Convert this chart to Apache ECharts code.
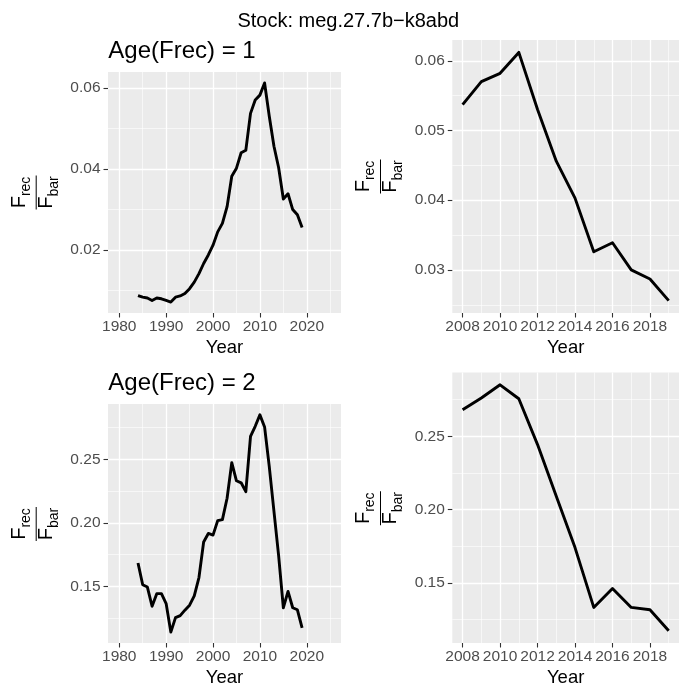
<!DOCTYPE html>
<html>
<head>
<meta charset="utf-8">
<script src="https://cdn.jsdelivr.net/npm/echarts@6/dist/echarts.min.js"></script>
<style>
html,body{margin:0;padding:0;background:#fff;}
#chart{width:679px;height:688px;}
</style>
</head>
<body>
<div id="chart"></div>
<script>
// ---- data ----
var years = [1984,1985,1986,1987,1988,1989,1990,1991,1992,1993,1994,1995,1996,1997,1998,1999,
  2000,2001,2002,2003,2004,2005,2006,2007,2008,2009,2010,2011,2012,2013,2014,2015,2016,2017,2018,2019];
var age1Values = [0.0088,0.0084,0.0082,0.0076,0.0082,0.0080,0.0076,0.0072,0.0084,0.0087,0.0093,0.0105,
  0.0121,0.0142,0.0167,0.0188,0.0212,0.0245,0.0266,0.0307,0.0382,0.0402,0.0440,0.0446,
  0.0537,0.0570,0.0582,0.0612,0.0530,0.0456,0.0403,0.0326,0.0339,0.0300,0.0287,0.0256];
var age2Values = [0.1684,0.1513,0.1495,0.1344,0.1443,0.1443,0.1365,0.1140,0.1254,0.1270,0.1313,0.1352,
  0.1425,0.1570,0.1850,0.1917,0.1904,0.2018,0.2026,0.2194,0.2474,0.2332,0.2316,0.2246,
  0.2681,0.2761,0.2851,0.2756,0.2443,0.2091,0.1740,0.1332,0.1461,0.1332,0.1316,0.1173];
var recentStart = 2008;
var fullYearTicks = [1980,1990,2000,2010,2020];
var recentYearTicks = [2008,2010,2012,2014,2016,2018];
var age1Ticks = [0.02,0.04,0.06];
var age1RecentTicks = [0.03,0.04,0.05,0.06];
var age2Ticks = [0.15,0.20,0.25];
var age2RecentTicks = [0.15,0.20,0.25];
var mainTitle = 'Stock: meg.27.7b\u2212k8abd';
var panelTitles = ['Age(Frec) = 1','Age(Frec) = 2'];
var xTitle = 'Year';

// ---- helpers ----
var FONT = '"Liberation Sans", Arial, Helvetica, sans-serif';
function pairs(ys, vs, from){
  var out = [];
  for (var i=0;i<ys.length;i++){ if (ys[i] >= from) out.push([ys[i], vs[i]]); }
  return out;
}
function expand(vals){
  var mn = Math.min.apply(null, vals), mx = Math.max.apply(null, vals);
  var d = (mx - mn) * 0.05;
  return [mn - d, mx + d];
}
function recentVals(vs){
  return vs.filter(function(v,i){ return years[i] >= recentStart; });
}

var grids = [
  {left:108,   top:72,    width:233, height:241},
  {left:452.3, top:40,    width:233, height:273},
  {left:108,   top:404,   width:233, height:240},
  {left:452.3, top:372.5, width:233, height:271.5}
];
grids.forEach(function(g){ g.show = true; g.backgroundColor = '#EBEBEB'; g.borderWidth = 0; g.containLabel = false; });

var TICK_FS = 15.5;
function xAxis(gi, min, max, ticks){
  return {
    type:'value', gridIndex:gi, min:min, max:max, splitNumber:5,
    axisLine:{show:false, onZero:false},
    axisTick:{show:true, length:4.5, customValues:ticks, lineStyle:{color:'#333333', width:1.1}},
    axisLabel:{customValues:ticks, color:'#4D4D4D', fontSize:TICK_FS, fontFamily:FONT, margin:6,
      formatter:function(v){ return String(Math.round(v)); }},
    splitLine:{show:true, lineStyle:{color:'#FFFFFF', width:1.3}},
    minorTick:{show:false, splitNumber:2},
    minorSplitLine:{show:true, lineStyle:{color:'#FFFFFF', width:0.6}},
    name:xTitle, nameLocation:'middle', nameGap:25,
    nameTextStyle:{color:'#000', fontSize:18.5, fontFamily:FONT}
  };
}
function yAxis(gi, ext, ticks, split){
  return {
    type:'value', gridIndex:gi, min:ext[0], max:ext[1], splitNumber:split,
    axisLine:{show:false, onZero:false},
    axisTick:{show:true, length:4.5, customValues:ticks, lineStyle:{color:'#333333', width:1.1}},
    axisLabel:{customValues:ticks, color:'#4D4D4D', fontSize:TICK_FS, fontFamily:FONT, margin:7.5,
      formatter:function(v){ return v.toFixed(2); }},
    splitLine:{show:true, lineStyle:{color:'#FFFFFF', width:1.3}},
    minorTick:{show:false, splitNumber:2},
    minorSplitLine:{show:true, lineStyle:{color:'#FFFFFF', width:0.6}}
  };
}

var recentExt = [recentStart - 0.55, 2019 + 0.55];
var xAxes = [
  xAxis(0, 1977.6, 2027.3, fullYearTicks),
  xAxis(1, recentExt[0], recentExt[1], recentYearTicks),
  xAxis(2, 1977.6, 2027.3, fullYearTicks),
  xAxis(3, recentExt[0], recentExt[1], recentYearTicks)
];
var yAxes = [
  yAxis(0, expand(age1Values), age1Ticks, 3),
  yAxis(1, expand(recentVals(age1Values)), age1RecentTicks, 4),
  yAxis(2, expand(age2Values), age2Ticks, 4),
  yAxis(3, expand(recentVals(age2Values)), age2RecentTicks, 4)
];

function lineSeries(i, data){
  return {type:'line', xAxisIndex:i, yAxisIndex:i, data:data, showSymbol:false, symbol:'none',
    lineStyle:{color:'#000', width:2.9, join:'round', cap:'butt'}, silent:true, animation:false, z:5};
}
var series = [
  lineSeries(0, pairs(years, age1Values, 0)),
  lineSeries(1, pairs(years, age1Values, recentStart)),
  lineSeries(2, pairs(years, age2Values, 0)),
  lineSeries(3, pairs(years, age2Values, recentStart))
];

// y-axis title: F_rec / F_bar, rotated
function fraction(cx, cy){
  var fF = 'normal 20px ' + FONT, fS = 'normal 14px ' + FONT;
  var numW = 12.2 + 19.4, denW = 12.2 + 20.2;
  return {
    type:'group', x:cx, y:cy, rotation:Math.PI/2, silent:true,
    children:[
      {type:'text', x:-numW/2, y:-17.1, style:{text:'F', font:fF, fill:'#000', align:'left', verticalAlign:'middle'}},
      {type:'text', x:-numW/2+12.2, y:-10.1, style:{text:'rec', font:fS, fill:'#000', align:'left', verticalAlign:'middle'}},
      {type:'line', shape:{x1:-17, y1:0, x2:17, y2:0}, style:{stroke:'#000', lineWidth:1}},
      {type:'text', x:-denW/2, y:10.4, style:{text:'F', font:fF, fill:'#000', align:'left', verticalAlign:'middle'}},
      {type:'text', x:-denW/2+12.2, y:17.9, style:{text:'bar', font:fS, fill:'#000', align:'left', verticalAlign:'middle'}}
    ]
  };
}

var graphics = [
  {type:'text', x:348.3, y:21.1, silent:true, style:{text:mainTitle, font:'normal 20px '+FONT, fill:'#000', align:'center', verticalAlign:'middle'}},
  {type:'text', x:108.3, y:51.5, silent:true, style:{text:panelTitles[0], font:'normal 24px '+FONT, fill:'#000', align:'left', verticalAlign:'middle'}},
  {type:'text', x:108.3, y:383.5, silent:true, style:{text:panelTitles[1], font:'normal 24px '+FONT, fill:'#000', align:'left', verticalAlign:'middle'}}
];
grids.forEach(function(g){
  var barX = g.left - 71.8;
  graphics.push(fraction(barX, g.top + g.height/2));
});

var chart = echarts.init(document.getElementById('chart'), null, {renderer:'canvas'});
chart.setOption({
  animation:false,
  backgroundColor:'#FFFFFF',
  grid:grids,
  xAxis:xAxes,
  yAxis:yAxes,
  series:series,
  graphic:graphics
});
</script>
</body>
</html>
